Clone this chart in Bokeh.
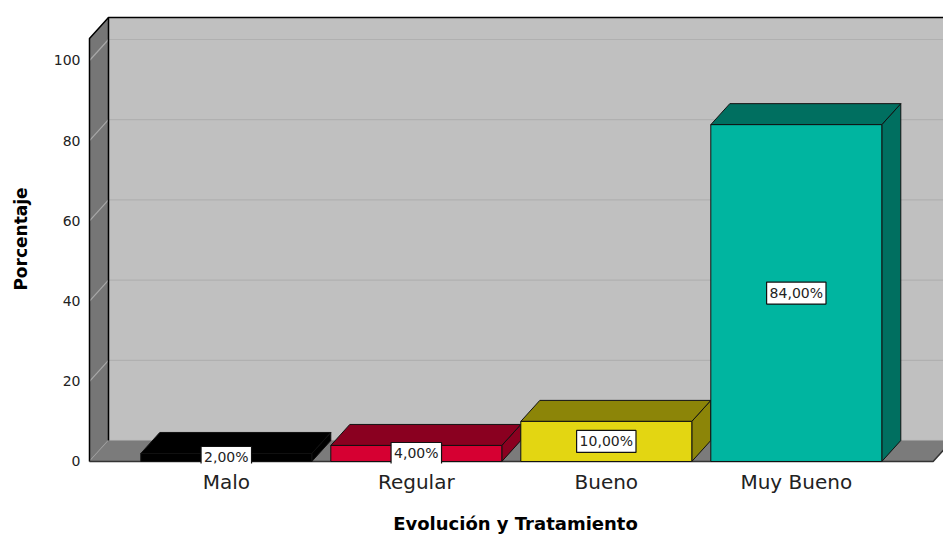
from bokeh.plotting import figure
from bokeh.models import Range1d, FixedTicker, Label
from bokeh.embed import file_html
from bokeh.resources import INLINE

# ---- data ----
categories = ["Malo", "Regular", "Bueno", "Muy Bueno"]
percentages = [2.0, 4.0, 10.0, 84.0]
value_labels = ["2,00%", "4,00%", "10,00%", "84,00%"]
y_ticks = [0, 20, 40, 60, 80, 100]

# ---- style ----
front_colors = ["#000000", "#d60032", "#e3d612", "#00b5a0"]
top_colors = ["#000000", "#8a0020", "#8c8508", "#006f60"]
DX = 0.1      # depth offset in category units
DY = 5.24     # depth offset in percent units
HALF = 0.45   # half bar width
X0 = -0.72    # front-left edge of the floor
X1 = 3.72     # front-right edge of the floor
WALL_TOP = 105.5
FONT = "DejaVu Sans"

xs = list(range(len(categories)))

p = figure(width=943, height=536, output_backend="svg", toolbar_location=None,
           x_range=Range1d(-0.7305, 3.7747), y_range=Range1d(-0.5, 111.47),
           min_border_left=87, min_border_right=0, min_border_top=14,
           min_border_bottom=73)
p.outline_line_color = None
p.background_fill_color = "white"
p.border_fill_color = "white"
p.xgrid.visible = False
p.ygrid.visible = False

# back wall
bx0, bx1 = X0 + DX, X1 + DX + 0.2
p.patch([bx0, bx1, bx1, bx0], [DY, DY, WALL_TOP + DY, WALL_TOP + DY],
        fill_color="#c0c0c0", line_color=None)
# back wall gridlines
p.segment(x0=[bx0] * 5, y0=[t + DY for t in y_ticks[1:]],
          x1=[bx1] * 5, y1=[t + DY for t in y_ticks[1:]],
          line_color="#b0b0b0", line_width=1.2)
# left wall
p.patch([X0, X0 + DX, X0 + DX, X0], [0, DY, WALL_TOP + DY, WALL_TOP],
        fill_color="#767676", line_color=None)
# left wall gridlines
p.segment(x0=[X0] * 6, y0=y_ticks, x1=[X0 + DX] * 6, y1=[t + DY for t in y_ticks],
          line_color="#a8a8a8", line_width=1.2)
# floor
p.patch([X0, X1, X1 + DX, X0 + DX], [0, 0, DY, DY],
        fill_color="#7b7b7b", line_color=None)
p.line([X0 + DX, bx1], [DY, DY], line_color="#9a9a9a", line_width=1)
# outlines
p.line([X0, X0, X0 + DX, bx1], [0, WALL_TOP, WALL_TOP + DY, WALL_TOP + DY],
       line_color="black", line_width=1.5)
p.line([X0 + DX, X0 + DX], [DY, WALL_TOP + DY], line_color="black", line_width=1.5)
p.line([X0, X1, X1 + DX], [0, 0, DY], line_color="#333333", line_width=1.5)

# bars
for x, v, fc, tc in zip(xs, percentages, front_colors, top_colors):
    l, r = x - HALF, x + HALF
    # side
    p.patch([r, r + DX, r + DX, r], [0, DY, v + DY, v],
            fill_color=tc, line_color="#111111", line_width=1)
    # top
    p.patch([l, r, r + DX, l + DX], [v, v, v + DY, v + DY],
            fill_color=tc, line_color="#111111", line_width=1)
    # front
    p.patch([l, r, r, l], [0, 0, v, v],
            fill_color=fc, line_color="#111111", line_width=1)

for x, v, t in zip(xs, percentages, value_labels):
    p.add_layout(Label(x=x, y=v / 2, text=t, text_align="center",
                       text_baseline="middle", text_font=FONT,
                       text_font_size="14px", text_color="#222222",
                       background_fill_color="white", border_line_color="#111111",
                       border_line_width=1.2, padding=3))

# axes
ya = p.yaxis[0]
ya.ticker = FixedTicker(ticks=y_ticks)
ya.axis_line_color = None
ya.major_tick_line_color = None
ya.major_tick_out = 0
ya.major_tick_in = 0
ya.minor_tick_line_color = None
ya.minor_tick_out = 0
ya.major_label_standoff = 7
ya.major_label_text_font = FONT
ya.major_label_text_font_size = "14px"
ya.major_label_text_color = "#222222"
ya.axis_label = "Porcentaje"
ya.axis_label_text_font = FONT
ya.axis_label_text_font_size = "17px"
ya.axis_label_text_font_style = "bold"
ya.axis_label_text_color = "black"
ya.axis_label_standoff = 20

xa = p.xaxis[0]
xa.ticker = FixedTicker(ticks=xs)
xa.major_label_overrides = {i: c for i, c in zip(xs, categories)}
xa.axis_line_color = None
xa.major_tick_line_color = None
xa.major_tick_out = 0
xa.major_tick_in = 0
xa.minor_tick_line_color = None
xa.minor_tick_out = 0
xa.major_label_standoff = 6
xa.major_label_text_font = FONT
xa.major_label_text_font_size = "20px"
xa.major_label_text_color = "#222222"
xa.axis_label = "Evolución y Tratamiento"
xa.axis_label_text_font = FONT
xa.axis_label_text_font_size = "18px"
xa.axis_label_text_font_style = "bold"
xa.axis_label_text_color = "black"
xa.axis_label_standoff = 16

open("out.html", "w").write(file_html(p, INLINE))
